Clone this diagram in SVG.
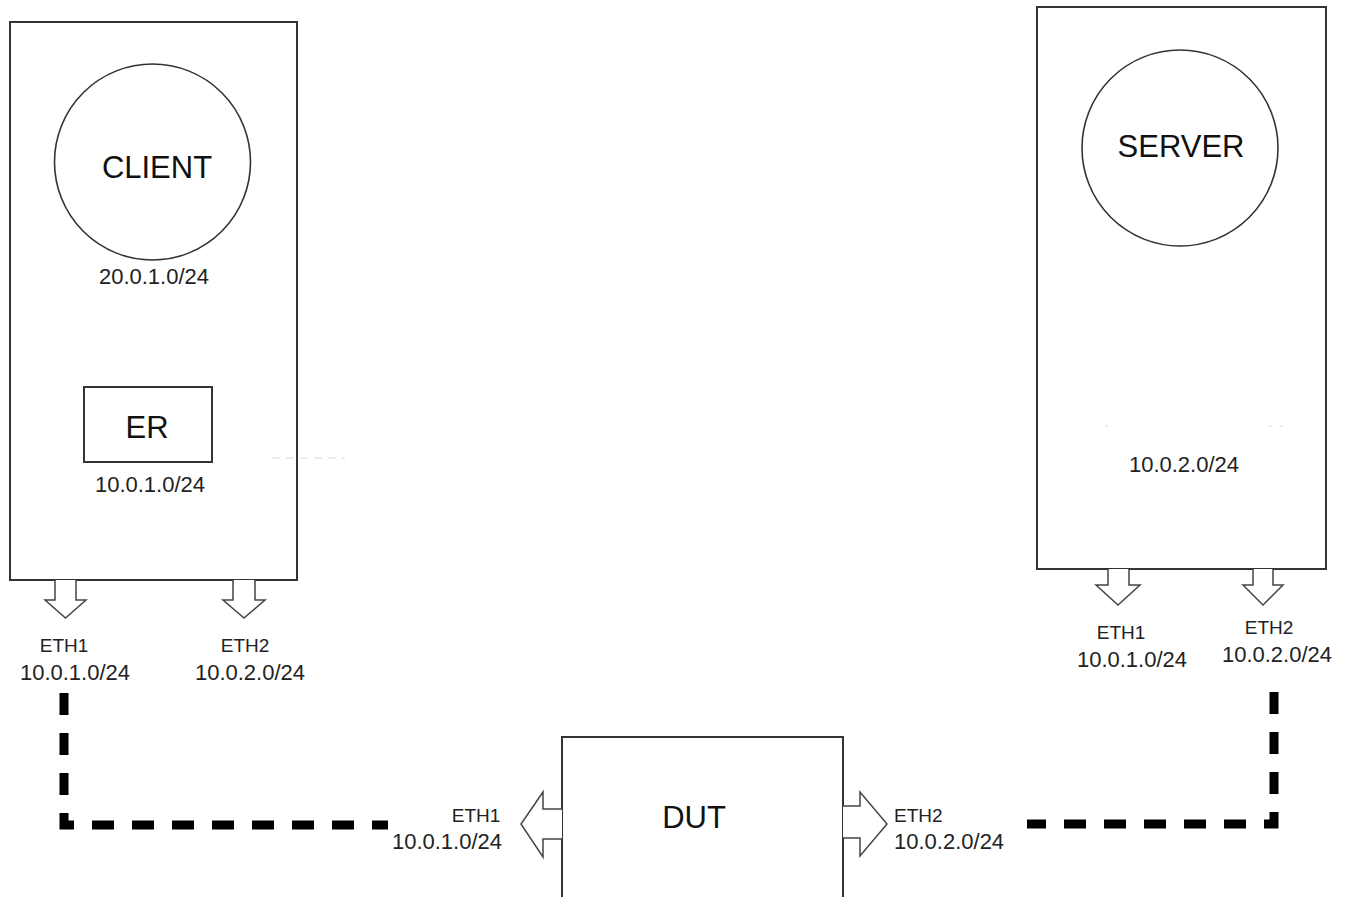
<svg xmlns="http://www.w3.org/2000/svg" width="1351" height="897" viewBox="0 0 1351 897">
<style>
.box{fill:#fff;stroke:#333;stroke-width:2}
.circ{fill:none;stroke:#333;stroke-width:1.6}
.arr{fill:#fff;stroke:#444;stroke-width:1.5;stroke-linejoin:miter}
.big{font-family:"Liberation Sans",Arial,sans-serif;font-size:31px;fill:#111;text-anchor:middle}
.ip{font-family:"Liberation Sans",Arial,sans-serif;font-size:22px;fill:#222;text-anchor:middle}
.eth{font-family:"Liberation Sans",Arial,sans-serif;font-size:19px;fill:#222;text-anchor:middle}
.link{fill:none;stroke:#000;stroke-width:9;stroke-dasharray:22 18;stroke-linejoin:miter}
.faint{fill:none;stroke:#e8e8e8;stroke-width:1.5}
</style>
<rect width="1351" height="897" fill="#fff"/>
<g id="client">
  <rect class="box" x="10" y="22" width="287" height="558"/>
  <circle class="circ" cx="152.5" cy="162" r="98"/>
  <text class="big" x="157" y="178">CLIENT</text>
  <text class="ip" x="154" y="284">20.0.1.0/24</text>
  <line class="faint" x1="272" y1="458" x2="345" y2="458" stroke-dasharray="8 6"/>
  <polyline class="arr" points="55,580 55,600 45,600 65.5,618 86,600 76,600 76,580"/>
  <polyline class="arr" points="233,580 233,600 223,600 244,618 265,600 255,600 255,580"/>
  <text class="eth" x="64" y="652">ETH1</text>
  <text class="ip" x="75" y="680">10.0.1.0/24</text>
  <text class="eth" x="245" y="652">ETH2</text>
  <text class="ip" x="250" y="680">10.0.2.0/24</text>
</g>
<g id="er">
  <rect class="box" x="84" y="387" width="128" height="75"/>
  <text class="big" x="147" y="438">ER</text>
  <text class="ip" x="150" y="492">10.0.1.0/24</text>
</g>
<g id="server">
  <rect class="box" x="1037" y="7" width="289" height="562"/>
  <circle class="circ" cx="1180" cy="148" r="98"/>
  <text class="big" x="1181" y="157">SERVER</text>
  <line class="faint" x1="1105" y1="426" x2="1108" y2="426"/>
  <line class="faint" x1="1268" y1="426" x2="1272" y2="426"/>
  <line class="faint" x1="1279" y1="426" x2="1283" y2="426"/>
  <text class="ip" x="1184" y="472">10.0.2.0/24</text>
  <polyline class="arr" points="1108,569 1108,585 1096,585 1118,605 1140,585 1129,585 1129,569"/>
  <polyline class="arr" points="1253,569 1253,585 1243,585 1263,605 1283,585 1273,585 1273,569"/>
  <text class="eth" x="1121" y="639">ETH1</text>
  <text class="ip" x="1132" y="667">10.0.1.0/24</text>
  <text class="eth" x="1269" y="634">ETH2</text>
  <text class="ip" x="1277" y="662">10.0.2.0/24</text>
</g>
<g id="dut">
  <rect class="box" x="562" y="737" width="281" height="200"/>
  <text class="big" x="694" y="828">DUT</text>
  <polyline class="arr" points="562,809 543,809 543,792 521,824 543,857 543,839 562,839"/>
  <polyline class="arr" points="843,806 860,806 860,792 887,824 860,856 860,838 843,838"/>
  <text class="eth" x="476" y="822">ETH1</text>
  <text class="ip" x="447" y="849">10.0.1.0/24</text>
  <text class="eth" x="894" y="822" style="text-anchor:start">ETH2</text>
  <text class="ip" x="894" y="849" style="text-anchor:start">10.0.2.0/24</text>
</g>
<g id="connectors">
  <path class="link" d="M64,693 V825 H388"/>
  <path class="link" d="M1274,692 V824 H1027"/>
</g>
</svg>
